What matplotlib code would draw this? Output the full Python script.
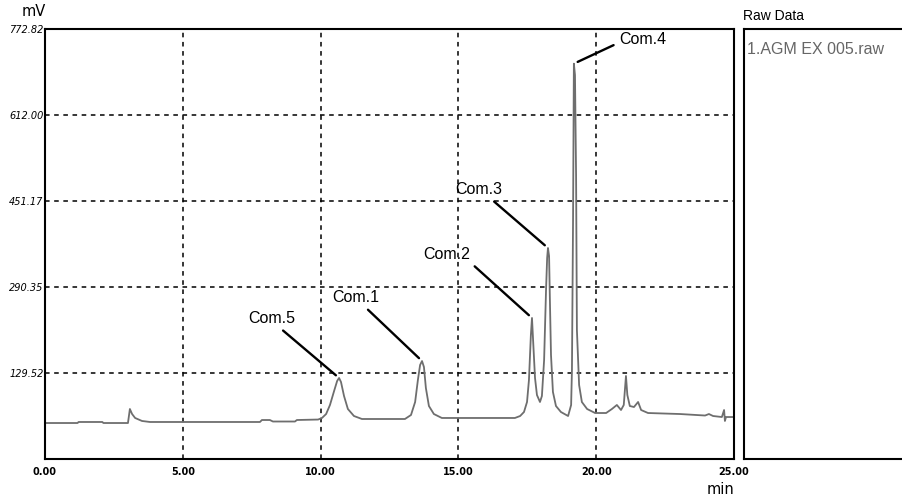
import numpy as np
import matplotlib.pyplot as plt

# chromatogram trace (time in min, signal in mV)
time_min = [0.00, 1.18, 1.22, 2.08, 2.12, 3.01, 3.08, 3.16, 3.27, 3.52, 3.81, 7.80, 7.87,
            8.16, 8.27, 9.07, 9.14, 9.91, 10.05, 10.20, 10.34, 10.49, 10.60, 10.67, 10.74,
            10.85, 10.99, 11.21, 11.50, 13.06, 13.28, 13.43, 13.53, 13.61, 13.68, 13.75,
            13.82, 13.93, 14.11, 14.40, 17.05, 17.24, 17.38, 17.49, 17.56, 17.63, 17.67,
            17.71, 17.78, 17.85, 17.96, 18.03, 18.11, 18.18, 18.22, 18.25, 18.29, 18.32,
            18.36, 18.43, 18.54, 18.72, 18.98, 19.09, 19.12, 19.16, 19.19, 19.23, 19.27,
            19.30, 19.38, 19.48, 19.67, 19.96, 20.36, 20.57, 20.75, 20.90, 21.00, 21.08,
            21.13, 21.22, 21.37, 21.52, 21.63, 21.88, 23.04, 23.95, 24.09, 24.24, 24.56,
            24.64, 24.67, 24.71, 24.93]
signal_mv = [36.0, 36.0, 37.9, 37.9, 36.0, 36.0, 62.2, 52.8, 45.4, 39.8, 37.9, 37.9, 41.6,
             41.6, 38.8, 38.8, 41.6, 42.5, 45.4, 52.8, 69.7, 95.9, 114.6, 120.2, 112.7,
             86.5, 62.2, 49.1, 43.5, 43.5, 51.0, 75.3, 116.4, 144.5, 151.9, 140.7,
             101.5, 67.8, 52.8, 45.4, 45.4, 49.1, 56.6, 75.3, 116.4, 200.6, 232.4,
             191.2, 120.2, 88.4, 75.3, 86.5, 153.8, 284.7, 344.6, 363.3, 348.3, 266.0,
             163.2, 94.0, 67.8, 56.6, 49.1, 69.7, 135.1, 415.6, 708.0, 686.8, 499.8,
             209.9, 107.1, 75.3, 62.2, 54.7, 54.7, 62.2, 69.7, 60.3, 69.7, 123.9,
             88.4, 67.8, 65.9, 75.3, 60.3, 54.7, 52.8, 50.0, 52.8, 49.1, 47.2,
             60.3, 39.8, 47.2, 47.2]

# labelled peaks: name, retention time, height
peak_names = ["Com.5", "Com.1", "Com.2", "Com.3", "Com.4"]
peak_times = [10.67, 13.68, 17.67, 18.25, 19.19]
peak_heights = [120.2, 151.9, 232.4, 363.3, 708.0]

x_ticks = [0, 5, 10, 15, 20, 25]
x_tick_labels = ["0.00", "5.00", "10.00", "15.00", "20.00", "25.00"]
y_ticks = [129.52, 290.35, 451.17, 612.00, 772.82]
y_tick_labels = ["129.52", "290.35", "451.17", "612.00", "772.82"]

raw_files = ["1.AGM EX 005.raw"]

fig = plt.figure(figsize=(9.03, 4.97), dpi=100)
ax = fig.add_axes([45 / 903, 38 / 497, 689 / 903, 430 / 497])

ax.plot(time_min, signal_mv, color="#6e6e6e", lw=1.3)
ax.set_xlim(0, 25)
ax.set_ylim(-31.31, 772.82)

ax.set_xticks(x_ticks)
ax.set_xticklabels(x_tick_labels, fontsize=7, fontweight="bold")
ax.set_yticks(y_ticks)
ax.set_yticklabels(y_tick_labels, fontsize=7, style="italic")
ax.tick_params(length=0, pad=6)
ax.tick_params(axis="y", pad=1)

for t in x_ticks[1:-1]:
    ax.axvline(t, color="black", lw=1.1, ls=(0, (3, 3)), zorder=0)
for v in y_ticks[:-1]:
    ax.axhline(v, color="black", lw=1.1, ls=(0, (3, 3)), zorder=0)

for s in ax.spines.values():
    s.set_linewidth(1.5)

# label positions relative to the peak tip, in pixels
offsets = [(-91, 52), (-90, 56), (-109, 56), (-93, 51), (45, 24)]
rel = [(0.63, 0), (0.66, 0), (1.0, 0), (0.72, 0), (0, 0.3)]
for name, t, h, off, rp in zip(peak_names, peak_times, peak_heights, offsets, rel):
    va = "center" if name == "Com.4" else "bottom"
    ax.annotate(name, xy=(t, h), xytext=off, textcoords="offset pixels",
                ha="left", va=va, fontsize=11.5, family="Liberation Sans",
                arrowprops=dict(arrowstyle="-", color="black", lw=1.7,
                                relpos=rp, shrinkA=2, shrinkB=3))

fig.text(22 / 903, 1 - 12 / 497, "mV", fontsize=10.5, va="center", ha="left")
fig.text(734 / 903, 1 - 489 / 497, "min", fontsize=10.5, va="center", ha="right")

# side panel listing the raw data file
side = fig.add_axes([744 / 903, 38 / 497, 0.2, 430 / 497])
side.set_xticks([])
side.set_yticks([])
for s in side.spines.values():
    s.set_linewidth(1.5)
fig.text(743 / 903, 1 - 16 / 497, "Raw Data", fontsize=10, va="center",
         family="Liberation Sans")
for i, f in enumerate(raw_files):
    side.text(3 / 180, 1 - (21 + 18 * i) / 430, f, transform=side.transAxes,
              fontsize=11.5, color="#666666", va="center", family="Liberation Sans")

fig.savefig("out.png", dpi=100)
